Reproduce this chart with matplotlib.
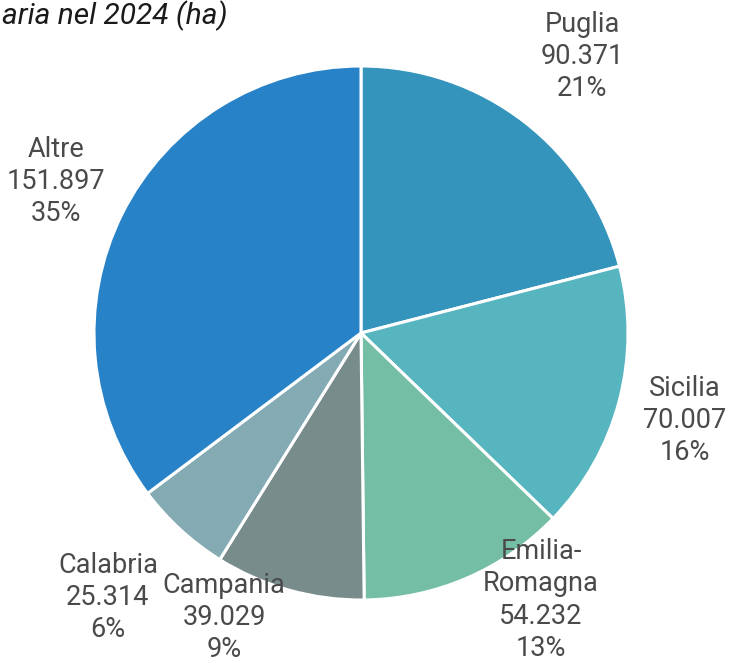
import matplotlib
matplotlib.use("Agg")
import matplotlib.pyplot as plt

regions = ["Puglia", "Sicilia", "Emilia-\nRomagna", "Campania", "Calabria", "Altre"]
values = [90371, 70007, 54232, 39029, 25314, 151897]
colors = ["#3594BB", "#57B5C0", "#75BEA6", "#788C8C", "#84AAB3", "#2882C8"]
title = "aria nel 2024 (ha)"

# label anchor positions (in pie-radius units)
label_pos = [(0.828, 1.034), (1.213, -0.326), (0.674, -1.0),
             (-0.513, -1.064), (-0.948, -0.989), (-1.142, 0.566)]

W, H, DPI = 732, 665, 100
cx, cy, R = 361, 333, 267

plt.rcParams['font.family'] = ['Roboto', 'DejaVu Sans']
fig = plt.figure(figsize=(W / DPI, H / DPI), dpi=DPI)
ax = fig.add_axes([0, 0, 1, 1])
ax.pie(values, colors=colors, startangle=90, counterclock=False, radius=1,
       wedgeprops=dict(edgecolor="white", linewidth=2.2))
ax.set_xlim(-cx / R, (W - cx) / R)
ax.set_ylim(-(H - cy) / R, cy / R)
ax.set_aspect("equal")
ax.axis("off")

total = sum(values)
for name, v, (x, y) in zip(regions, values, label_pos):
    txt = f"{name}\n{v:,}".replace(",", ".") + f"\n{round(100 * v / total)}%"
    ax.text(x, y, txt, ha="center", va="center", fontsize=19.5,
            color="#4a4a4a", linespacing=1.24)

fig.text(2 / W, 1 - 16 / H, title, ha="left", va="center", fontsize=21.5,
         style="italic", color="#1a1a1a")

fig.savefig("out.png", dpi=DPI)
